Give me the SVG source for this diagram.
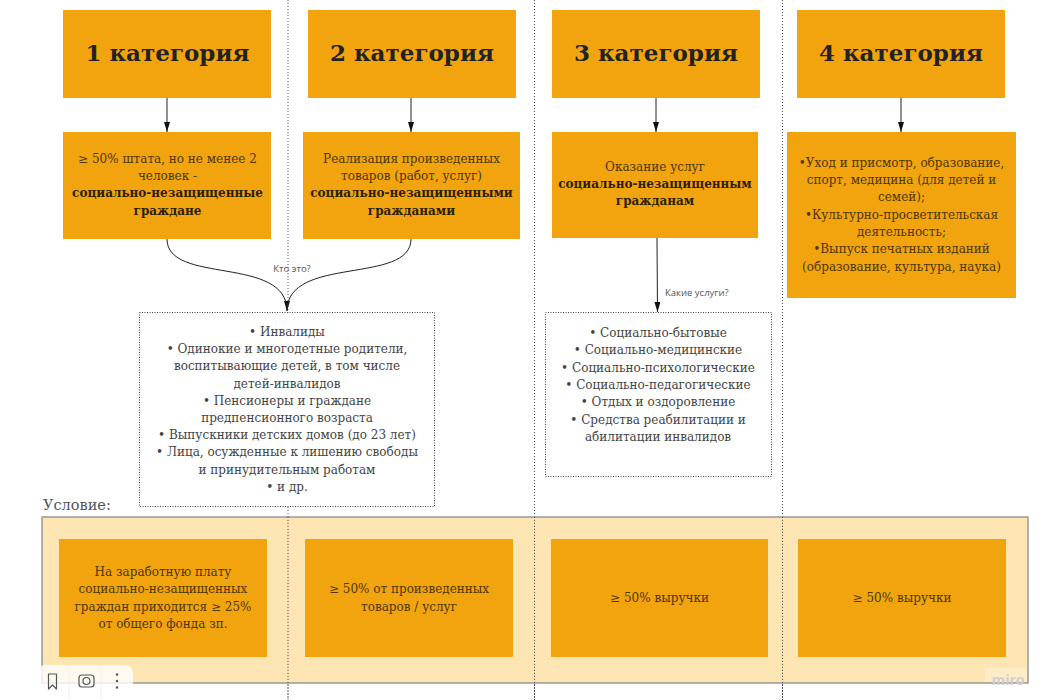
<svg xmlns="http://www.w3.org/2000/svg" width="1052" height="700" viewBox="0 0 1052 700">
<style>
.box{fill:#F2A40E}
.head{font-family:"DejaVu Serif",serif;font-weight:bold;font-size:23px;fill:#222;text-anchor:middle}
.t{font-family:"DejaVu Serif",serif;font-size:12px;fill:#4d3507;text-anchor:middle}
.tb{font-family:"DejaVu Serif",serif;font-size:12px;font-weight:bold;fill:#2b1d04;text-anchor:middle}
.lst{font-family:"DejaVu Serif",serif;font-size:12px;fill:#444;text-anchor:middle}
.lbl{font-family:"Open Sans",sans-serif;font-size:9.5px;fill:#555}
.dot{fill:#fff;stroke:#444;stroke-width:1;stroke-dasharray:1 1.5}
.vline{stroke:#555;stroke-width:1;stroke-dasharray:1 2}
.conn{fill:none;stroke:#222;stroke-width:1}
</style>
<defs>
<marker id="arr" viewBox="0 0 10 6" refX="10" refY="3" markerWidth="10" markerHeight="6" markerUnits="userSpaceOnUse" orient="auto">
<path d="M0,0 L10,3 L0,6 z" fill="#111"/>
</marker>
</defs>
<rect width="1052" height="700" fill="#fff"/>
<g id="dividers">
<line class="vline" x1="288" y1="0" x2="288" y2="700"/>
<line class="vline" x1="534.5" y1="0" x2="534.5" y2="700"/>
<line class="vline" x1="782.5" y1="0" x2="782.5" y2="700"/>
</g>
<g id="cat1"><rect class="box" x="63" y="10" width="208" height="88"/><text class="head" x="167.5" y="61">1 категория</text></g>
<g id="cat2"><rect class="box" x="308" y="10" width="208" height="88"/><text class="head" x="412" y="61">2 категория</text></g>
<g id="cat3"><rect class="box" x="552" y="10" width="208" height="88"/><text class="head" x="656" y="61">3 категория</text></g>
<g id="cat4"><rect class="box" x="797" y="10" width="208" height="88"/><text class="head" x="901" y="61">4 категория</text></g>
<g id="desc1"><rect class="box" x="63" y="132" width="208" height="107"/>
<text class="t" x="167.5" y="163">≥ 50% штата, но не менее 2</text>
<text class="t" x="167.5" y="180">человек -</text>
<text class="tb" x="167.5" y="197">социально-незащищенные</text>
<text class="tb" x="167.5" y="215">граждане</text></g>
<g id="desc2"><rect class="box" x="303" y="132" width="217" height="107"/>
<text class="t" x="411.5" y="163">Реализация произведенных</text>
<text class="t" x="411.5" y="180">товаров (работ, услуг)</text>
<text class="tb" x="411.5" y="197">социально-незащищенными</text>
<text class="tb" x="411.5" y="215">гражданами</text></g>
<g id="desc3"><rect class="box" x="552" y="132" width="206" height="106"/>
<text class="t" x="655" y="171">Оказание услуг</text>
<text class="tb" x="655" y="188">социально-незащищенным</text>
<text class="tb" x="655" y="205">гражданам</text></g>
<g id="desc4"><rect class="box" x="787" y="132" width="229" height="166"/>
<text class="t" x="901.5" y="167">•Уход и присмотр, образование,</text>
<text class="t" x="901.5" y="184">спорт, медицина (для детей и</text>
<text class="t" x="901.5" y="201">семей);</text>
<text class="t" x="901.5" y="219">•Культурно-просветительская</text>
<text class="t" x="901.5" y="236">деятельность;</text>
<text class="t" x="901.5" y="253">•Выпуск печатных изданий</text>
<text class="t" x="901.5" y="271">(образование, культура, наука)</text></g>
<g id="connectors">
<line class="conn" x1="167" y1="98" x2="167" y2="132" marker-end="url(#arr)"/>
<line class="conn" x1="411" y1="98" x2="411" y2="132" marker-end="url(#arr)"/>
<line class="conn" x1="656" y1="98" x2="656" y2="132" marker-end="url(#arr)"/>
<line class="conn" x1="901" y1="98" x2="901" y2="132" marker-end="url(#arr)"/>
<path class="conn" d="M167,239 C167,285 287,255 287,311" marker-end="url(#arr)"/>
<path class="conn" d="M411,239 C411,285 287,255 287,311"/>
<line class="conn" x1="657" y1="238" x2="657.5" y2="312" marker-end="url(#arr)"/>
<text class="lbl" x="292" y="272" text-anchor="middle">Кто это?</text>
<text class="lbl" x="665" y="296">Какие услуги?</text>
</g>
<g id="who"><rect class="dot" x="139.5" y="312.5" width="295" height="194"/>
<text class="lst" x="287" y="336">• Инвалиды</text>
<text class="lst" x="287" y="353.2">• Одинокие и многодетные родители,</text>
<text class="lst" x="287" y="370.4">воспитывающие детей, в том числе</text>
<text class="lst" x="287" y="387.6">детей-инвалидов</text>
<text class="lst" x="287" y="404.8">• Пенсионеры и граждане</text>
<text class="lst" x="287" y="422">предпенсионного возраста</text>
<text class="lst" x="287" y="439.2">• Выпускники детских домов (до 23 лет)</text>
<text class="lst" x="287" y="456.4">• Лица, осужденные к лишению свободы</text>
<text class="lst" x="287" y="473.6">и принудительным работам</text>
<text class="lst" x="287" y="490.8">• и др.</text></g>
<g id="services"><rect class="dot" x="545.5" y="312.5" width="226" height="164"/>
<text class="lst" x="658" y="337">• Социально-бытовые</text>
<text class="lst" x="658" y="354.3">• Социально-медицинские</text>
<text class="lst" x="658" y="371.6">• Социально-психологические</text>
<text class="lst" x="658" y="388.9">• Социально-педагогические</text>
<text class="lst" x="658" y="406.2">• Отдых и оздоровление</text>
<text class="lst" x="658" y="423.5">• Средства реабилитации и</text>
<text class="lst" x="658" y="440.8">абилитации инвалидов</text></g>
<g id="condition-label"><text x="43" y="510" style="font-family:'DejaVu Serif',serif;font-size:14.5px;fill:#555">Условие:</text></g>
<g id="conditions">
<rect x="42" y="517" width="986" height="166" fill="#FDE2A6" fill-opacity="0.85" stroke="#999" stroke-width="1.5"/>
<line class="vline" x1="288" y1="517" x2="288" y2="700"/>
<line class="vline" x1="534.5" y1="517" x2="534.5" y2="700"/>
<line class="vline" x1="782.5" y1="517" x2="782.5" y2="700"/>
</g>
<g id="cond1"><rect class="box" x="59" y="539" width="208" height="118"/>
<text class="t" x="163" y="576">На заработную плату</text>
<text class="t" x="163" y="593">социально-незащищенных</text>
<text class="t" x="163" y="611">граждан приходится ≥ 25%</text>
<text class="t" x="163" y="628">от общего фонда зп.</text></g>
<g id="cond2"><rect class="box" x="305" y="539" width="208" height="118"/>
<text class="t" x="409" y="593">≥ 50% от произведенных</text>
<text class="t" x="409" y="611">товаров / услуг</text></g>
<g id="cond3"><rect class="box" x="551" y="539" width="217" height="118"/>
<text class="t" x="659.5" y="602">≥ 50% выручки</text></g>
<g id="cond4"><rect class="box" x="798" y="539" width="208" height="118"/>
<text class="t" x="902" y="602">≥ 50% выручки</text></g>
<g id="watermark"><rect x="985" y="668" width="42" height="14" fill="#fff" fill-opacity="0.25"/>
<text x="1008" y="685" text-anchor="middle" style="font-family:'Open Sans',sans-serif;font-weight:bold;font-size:14px;fill:#cfcfcf">miro</text></g>
<g id="toolbar">
<rect x="37" y="665" width="96" height="33" rx="8" fill="#fff" fill-opacity="0.8"/>
<line x1="69" y1="665" x2="69" y2="698" stroke="#eee"/>
<line x1="101" y1="665" x2="101" y2="698" stroke="#eee"/>
<path d="M48.5,674 h8 v15 l-4,-4 l-4,4 z" fill="none" stroke="#555" stroke-width="1.2" stroke-linejoin="round"/>
<rect x="79" y="675" width="15" height="12" rx="3" fill="none" stroke="#555" stroke-width="1.2"/>
<circle cx="86.5" cy="681" r="3.5" fill="none" stroke="#555" stroke-width="1.2"/>
<circle cx="117" cy="674.5" r="1.2" fill="#555"/>
<circle cx="117" cy="681" r="1.2" fill="#555"/>
<circle cx="117" cy="687.5" r="1.2" fill="#555"/>
</g>
</svg>
